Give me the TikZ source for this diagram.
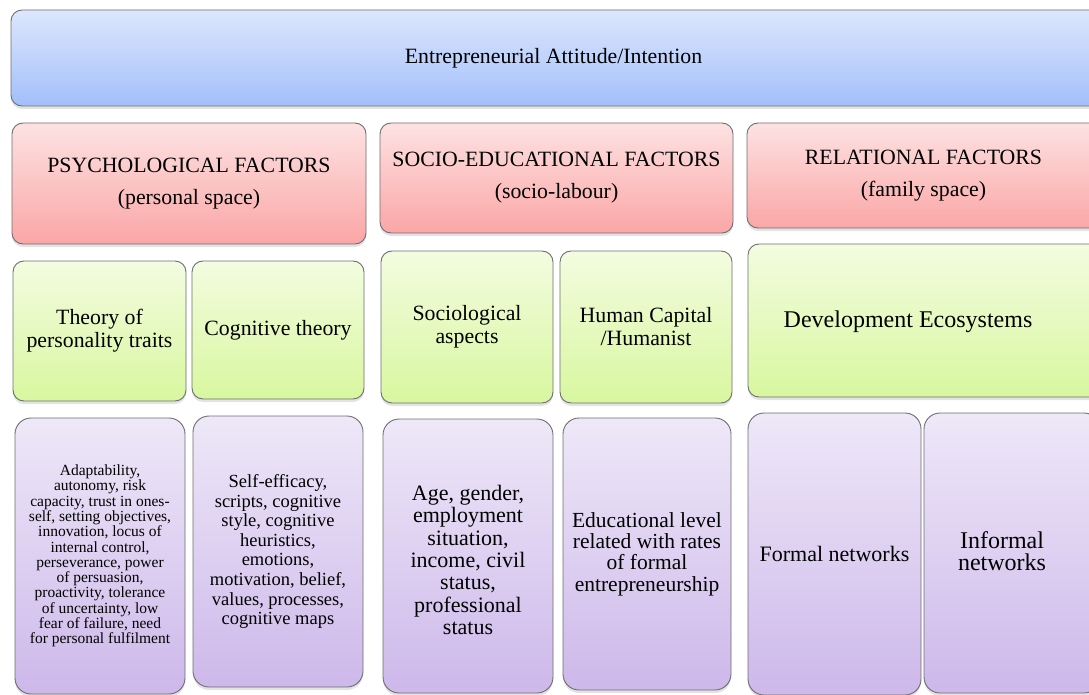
\documentclass[tikz,border=0pt]{standalone}
\usepackage{fontspec}
\setmainfont{Liberation Serif}
\usetikzlibrary{fit,shadows,shadings}

\definecolor{edgegray}{HTML}{6E6E72}
\definecolor{blueTop}{HTML}{DDE7FD}
\definecolor{blueBot}{HTML}{A2BFFA}
\definecolor{redTop}{HTML}{FDE2E2}
\definecolor{redBot}{HTML}{FBA6A6}
\definecolor{greenTop}{HTML}{F3FCE0}
\definecolor{greenBot}{HTML}{D8F79F}
\definecolor{purpTop}{HTML}{EEE8F8}
\definecolor{purpBot}{HTML}{CDB8EA}

\tikzset{
  panel/.style={draw=edgegray, line width=0.9pt, rounded corners=11pt,
    inner sep=0pt, align=center, text=black,
    drop shadow={shadow xshift=0pt, shadow yshift=-3pt, opacity=0.22}},
  titlebox/.style={panel, top color=blueTop, bottom color=blueBot},
  factorbox/.style={panel, top color=redTop, bottom color=redBot},
  theorybox/.style={panel, top color=greenTop, bottom color=greenBot},
  itembox/.style={panel, rounded corners=16pt, top color=purpTop, bottom color=purpBot},
  label/.style={align=center, text=black, inner sep=0pt},
}

\begin{document}
\begin{tikzpicture}[x=1pt, y=-1pt]
\useasboundingbox (0,0) rectangle (1089,695);
\clip (0,0) rectangle (1089,695);

% top banner
\node[titlebox, fit={(11,10) (1100,106)}] (top) {};
\node[label, font=\fontsize{21.8}{25}\selectfont] at ([xshift=-2pt]top.center) {Entrepreneurial Attitude/Intention};

% factor groups
\node[factorbox, fit={(12,123) (366,244)}] (psy) {};
\node[label, font=\fontsize{21.8}{32}\selectfont] at (psy.center) {PSYCHOLOGICAL FACTORS\\(personal space)};
\node[factorbox, fit={(380,123) (733,233)}] (soc) {};
\node[label, font=\fontsize{21.8}{32}\selectfont] at (soc.center) {SOCIO-EDUCATIONAL FACTORS\\(socio-labour)};
\node[factorbox, fit={(747,123) (1100,228)}] (rel) {};
\node[label, font=\fontsize{21.8}{32}\selectfont] at (rel.center) {RELATIONAL FACTORS\\(family space)};

% theories
\node[theorybox, fit={(13,261) (186,401)}] (trait) {};
\node[label, font=\fontsize{21.8}{23}\selectfont] at (trait.center) {Theory of\\personality traits};
\node[theorybox, fit={(192,261) (364,399)}] (cogn) {};
\node[label, font=\fontsize{21.8}{23}\selectfont] at (cogn.center) {Cognitive theory};
\node[theorybox, fit={(381,251) (553,403)}] (sociol) {};
\node[label, font=\fontsize{21.8}{23}\selectfont] at (sociol.center) {Sociological\\aspects};
\node[theorybox, fit={(560,251) (732,403)}] (human) {};
\node[label, font=\fontsize{21.8}{23}\selectfont] at (human.center) {Human Capital\\/Humanist};
\node[theorybox, fit={(748,244) (1100,397)}] (eco) {};
\node[label, font=\fontsize{24}{26}\selectfont] at ([xshift=-16pt,yshift=-1pt]eco.center) {Development Ecosystems};

% detail boxes
\node[itembox, fit={(15,418) (185,694)}] (adapt) {};
\node[label, font=\fontsize{15.5}{15.3}\selectfont] at (adapt.center)
  {Adaptability,\\autonomy, risk\\capacity, trust in ones-\\self, setting objectives,\\innovation, locus of\\internal control,\\perseverance, power\\of persuasion,\\proactivity, tolerance\\of uncertainty, low\\fear of failure, need\\for personal fulfilment};
\node[itembox, fit={(193,416) (363,687)}] (selfe) {};
\node[label, font=\fontsize{18.5}{19.6}\selectfont] at (selfe.center)
  {Self-efficacy,\\scripts, cognitive\\style, cognitive\\heuristics,\\emotions,\\motivation, belief,\\values, processes,\\cognitive maps};
\node[itembox, fit={(383,419) (553,693)}] (age) {};
\node[label, font=\fontsize{22}{22.3}\selectfont] at ([yshift=-4pt]age.center)
  {Age, gender,\\employment\\situation,\\income, civil\\status,\\professional\\status};
\node[itembox, fit={(563,418) (731,690)}] (edu) {};
\node[label, font=\fontsize{21.5}{21.3}\selectfont] at (edu.center)
  {Educational level\\related with rates\\of formal\\entrepreneurship};
\node[itembox, fit={(748,413) (921,695)}] (formal) {};
\node[label, font=\fontsize{22}{23}\selectfont] at (formal.center) {Formal networks};
\node[itembox, fit={(924,413) (1100,693)}] (informal) {};
\node[label, font=\fontsize{24}{22}\selectfont] at ([xshift=-10pt,yshift=2pt]informal.center) {Informal\\networks};
\end{tikzpicture}
\end{document}
